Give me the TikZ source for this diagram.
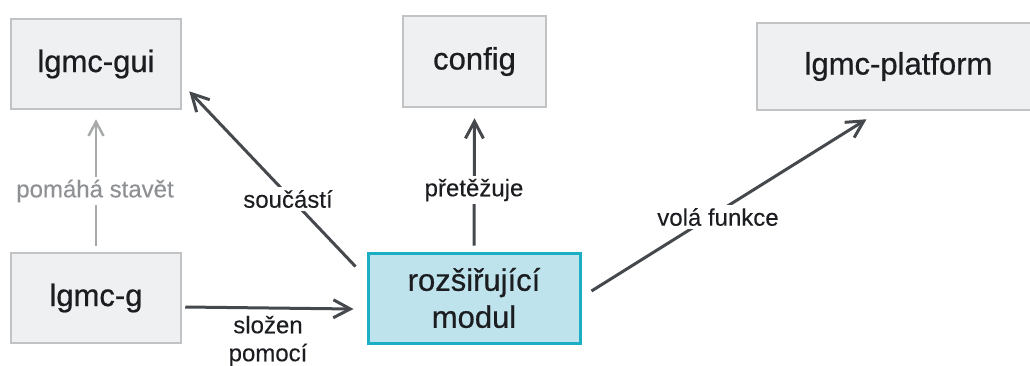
\documentclass[tikz,border=0pt]{standalone}
\usepackage{fontspec}
\setmainfont{Liberation Sans}
\newfontfamily\boxfont[FakeBold=0.6]{Liberation Sans}
\newfontfamily\lblfont[FakeBold=0.15]{Liberation Sans}
\usetikzlibrary{arrows.meta}
\definecolor{boxfill}{HTML}{EFF0F2}
\definecolor{boxline}{HTML}{C2C3C4}
\definecolor{modfill}{HTML}{BEE3EC}
\definecolor{modline}{HTML}{1CAFC3}
\definecolor{ink}{HTML}{1B1D20}
\definecolor{arrowc}{HTML}{45494D}
\definecolor{softc}{HTML}{A8A9AA}
\definecolor{softtext}{HTML}{8E9093}
\tikzset{
  cbox/.style={draw=boxline, fill=boxfill, line width=2.5pt, inner sep=0pt,
    text=ink, font=\boxfont\fontsize{31}{37}\selectfont, align=center},
  modbox/.style={cbox, draw=modline, fill=modfill, line width=3pt},
  rel/.style={draw=arrowc, line width=3pt,
    -{Straight Barb[length=17pt,width=18pt,line width=3pt]}},
  softrel/.style={draw=softc, line width=2.5pt,
    -{Straight Barb[length=14pt,width=15pt,line width=2.5pt]}},
  lbl/.style={fill=white, inner sep=3pt, text=ink,
    font=\lblfont\fontsize{24}{28}\selectfont, align=center},
  softlbl/.style={lbl, text=softtext}
}
\begin{document}
\begin{tikzpicture}[x=1pt,y=-1pt]
\useasboundingbox (0,0) rectangle (1030,365);
\begin{scope}
\clip (0,0) rectangle (1030,365);
% components
\node[cbox, minimum width=170pt, minimum height=90pt] (gui) at (96,64) {lgmc-gui};
\node[cbox, minimum width=143pt, minimum height=91pt] (config) at (474.5,61.5) {config};
\node[cbox, minimum width=283pt, minimum height=87pt] (platform) at (898.5,66.5) {lgmc-platform};
\node[cbox, minimum width=170pt, minimum height=90pt] (lg) at (96,298) {lgmc-g};
\node[modbox, minimum width=212pt, minimum height=90pt] (mod) at (474,298) {rozšiřující\\modul};
\end{scope}
% relations
\draw[softrel] ([yshift=6pt]lg.north) -- ([yshift=-9pt]gui.south);
\draw[rel] ([xshift=-11pt,yshift=-15pt]mod.north west) -- ([xshift=7pt,yshift=19pt]gui.south east);
\draw[rel] ([yshift=6pt]mod.north) -- ([yshift=-10pt]config.south);
\draw[rel] ([xshift=10pt,yshift=7pt]mod.east) -- ([xshift=-32pt,yshift=-8pt]platform.south);
\draw[rel] ([xshift=3pt,yshift=-9pt]lg.east) -- ([xshift=-13pt,yshift=-11pt]mod.west);
% relation labels
\node[softlbl] (l1) at (95,191) {pomáhá stavět};
\node[lbl] (l2) at (288,199) {součástí};
\node[lbl] (l3) at (474,190) {přetěžuje};
\node[lbl] (l4) at (718,217) {volá funkce};
\node[lbl, fill=none] (l5) at (268,341) {složen\\pomocí};
\end{tikzpicture}
\end{document}
